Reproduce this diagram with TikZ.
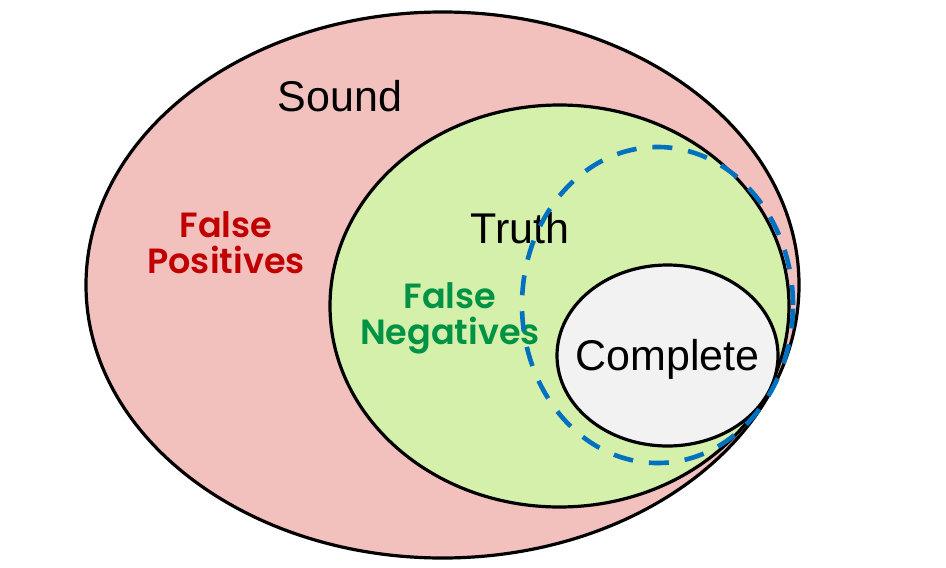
\documentclass[tikz,border=0pt]{standalone}
\usepackage{fontspec}
\setmainfont{Liberation Sans}
\newfontfamily\handfont{Poppins SemiBold}
\usepackage{tikz}
\usetikzlibrary{shapes.geometric,positioning}
\definecolor{soundpink} {RGB}{242,193,190}
\definecolor{truthgreen}{RGB}{212,240,170}
\definecolor{compgray}  {RGB}{242,242,242}
\definecolor{fpred}     {RGB}{192,0,0}
\definecolor{fngreen}   {RGB}{0,146,69}
\definecolor{dashblue}  {RGB}{0,112,192}
\tikzset{
  setell/.style ={ellipse, draw=black, line width=1.6pt, inner sep=0pt},
  soundell/.style={setell, fill=soundpink,
                   minimum width=356.5pt, minimum height=273pt},
  truthell/.style={setell, fill=truthgreen,
                   minimum width=229.5pt, minimum height=201pt},
  compell/.style ={setell, fill=compgray,
                   minimum width=110.5pt, minimum height=90.5pt},
  dashell/.style ={ellipse, draw=dashblue, line width=2.3pt, inner sep=0pt,
                   dash pattern=on 10pt off 8pt,
                   minimum width=135.5pt, minimum height=158pt},
  setlbl/.style  ={anchor=base, inner sep=0pt,
                   font=\fontsize{21.5}{24}\selectfont},
  errlbl/.style  ={align=center, inner sep=0pt,
                   font=\handfont\fontsize{17.5}{18}\selectfont},
}

\begin{document}
\begin{tikzpicture}[x=0.5pt,y=-0.5pt]
  \useasboundingbox (0,0) rectangle (946,567);
  \node[soundell] (sound) at (442.5,285) {};
  \node[truthell] (truth) at (559.5,306) {};
  \node[compell]  (comp)  at (667.5,355.5) {};
  \node[setlbl] (soundlbl) at (340,112) {Sound};
  \node[setlbl] (truthlbl) at (520,243) {Truth};
  \node[setlbl] (complbl)  at ([yshift=-7.5pt]comp.center) {Complete};
  \node[errlbl, text=fpred]   (fp) at (226,243) {False\\Positives};
  \node[errlbl, text=fngreen] (fn) at (450,318) {False\\Negatives};
  \node[dashell] (ideal) at (657.5,305) {};
\end{tikzpicture}
\end{document}
